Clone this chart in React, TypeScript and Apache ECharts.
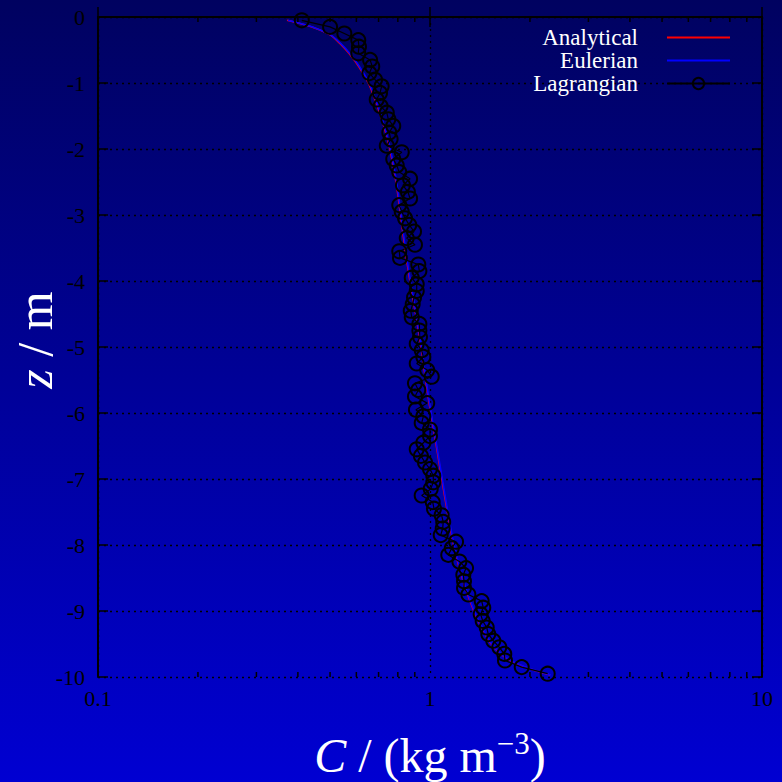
import React, { useEffect, useRef } from "react";
import * as echarts from "echarts";

// ---------- data ----------
const analyticalZ = [-0.05, -0.1, -0.16, -0.27, -0.4, -0.55, -0.75, -1, -1.25, -1.5, -1.75, -2, -2.5, -3, -3.5, -4, -4.5, -5, -5.5, -6, -6.5, -7, -7.5, -8, -8.5, -9, -9.25, -9.5, -9.7, -9.85, -9.97];
const analyticalC = [0.371, 0.406, 0.445, 0.5, 0.535, 0.57, 0.61, 0.652, 0.683, 0.71, 0.735, 0.757, 0.79, 0.815, 0.84, 0.87, 0.905, 0.94, 0.97, 1.005, 1.045, 1.085, 1.128, 1.178, 1.25, 1.355, 1.43, 1.53, 1.68, 1.93, 2.3];
const eulerianC = [0.373, 0.408, 0.447, 0.502, 0.538, 0.573, 0.613, 0.655, 0.686, 0.713, 0.738, 0.76, 0.793, 0.818, 0.843, 0.873, 0.908, 0.943, 0.973, 1.008, 1.048, 1.089, 1.132, 1.182, 1.254, 1.36, 1.435, 1.536, 1.687, 1.94, 2.31];

const lagrangianZ = [
  -0.05, -0.15, -0.25, -0.35, -0.45, -0.55, -0.65, -0.75, -0.85, -0.95,
  -1.05, -1.15, -1.25, -1.35, -1.45, -1.55, -1.65, -1.75, -1.85, -1.95,
  -2.05, -2.15, -2.25, -2.35, -2.45, -2.55, -2.65, -2.75, -2.85, -2.95,
  -3.05, -3.15, -3.25, -3.35, -3.45, -3.55, -3.65, -3.75, -3.85, -3.95,
  -4.05, -4.15, -4.25, -4.35, -4.45, -4.55, -4.65, -4.75, -4.85, -4.95,
  -5.05, -5.15, -5.25, -5.35, -5.45, -5.55, -5.65, -5.75, -5.85, -5.95,
  -6.05, -6.15, -6.25, -6.35, -6.45, -6.55, -6.65, -6.75, -6.85, -6.95,
  -7.05, -7.15, -7.25, -7.35, -7.45, -7.55, -7.65, -7.75, -7.85, -7.95,
  -8.05, -8.15, -8.25, -8.35, -8.45, -8.55, -8.65, -8.75, -8.85, -8.95,
  -9.05, -9.15, -9.25, -9.35, -9.45, -9.55, -9.65, -9.75, -9.85, -9.95,
];
const lagrangianC = [
  0.411, 0.5, 0.552, 0.608, 0.611, 0.608, 0.66, 0.67, 0.657, 0.683,
  0.715, 0.707, 0.691, 0.71, 0.741, 0.749, 0.775, 0.754, 0.761, 0.741,
  0.822, 0.775, 0.794, 0.808, 0.871, 0.829, 0.858, 0.871, 0.808, 0.822,
  0.841, 0.866, 0.895, 0.851, 0.901, 0.808, 0.812, 0.922, 0.929, 0.881,
  0.912, 0.912, 0.895, 0.887, 0.875, 0.881, 0.929, 0.929, 0.933, 0.912,
  0.944, 0.955, 0.912, 0.981, 1.012, 0.901, 0.922, 0.901, 0.981, 0.907,
  0.955, 0.944, 1.0, 1.0, 0.955, 0.912, 0.939, 0.966, 1.0, 1.023,
  1.023, 1.005, 0.944, 1.019, 1.028, 1.084, 1.096, 1.092, 1.077, 1.198,
  1.163, 1.135, 1.226, 1.284, 1.26, 1.266, 1.266, 1.305, 1.431, 1.447,
  1.421, 1.441, 1.482, 1.498, 1.551, 1.617, 1.674, 1.682, 1.889, 2.262,
];

const minorTickValues = [0.2, 0.3, 0.4, 0.5, 0.6, 0.7, 0.8, 0.9, 2, 3, 4, 5, 6, 7, 8, 9];
const seriesNames = ["Analytical", "Eulerian", "Lagrangian"];
const xMin = 0.1;
const xMax = 10;
const yMin = -10;
const yMax = 0;

const FONT = "'Liberation Serif', 'DejaVu Serif', 'Times New Roman', serif";

export default function App() {
  const ref = useRef<HTMLDivElement>(null);

  useEffect(() => {
    document.body.style.margin = "0";
    if (!ref.current) return;
    const chart = echarts.init(ref.current, null, { renderer: "svg" });

    const pair = (xs: number[], zs: number[]) => xs.map((c, i) => [c, zs[i]]);

    const gridLine = { show: true, lineStyle: { color: "#000", type: [2, 4], width: 1.3 } };

    const axisCommonX = {
      type: "log" as const,
      logBase: 10,
      min: xMin,
      max: xMax,
      axisLine: { show: true, lineStyle: { color: "#000", width: 2 } },
      axisTick: { show: true, inside: true, length: 10, lineStyle: { color: "#000", width: 1.5 } },
    };
    const axisCommonY = {
      type: "value" as const,
      min: yMin,
      max: yMax,
      interval: 1,
      axisLine: { show: true, lineStyle: { color: "#000", width: 2 } },
      axisTick: { show: true, inside: true, length: 10, lineStyle: { color: "#000", width: 1.5 } },
    };

    const hiddenSymbol = { color: "rgba(0,0,0,0)", borderWidth: 0, opacity: 0 };

    chart.setOption({
      animation: false,
      backgroundColor: "transparent",
      grid: { left: 98, right: 20, top: 17, bottom: 105, containLabel: false, outerBoundsMode: "none" },
      legend: {
        data: [
          { name: seriesNames[0], itemStyle: hiddenSymbol },
          { name: seriesNames[1], itemStyle: hiddenSymbol },
          { name: seriesNames[2] },
        ],
        orient: "vertical",
        right: 51,
        top: 26,
        padding: 0,
        align: "right",
        itemWidth: 63,
        itemHeight: 14,
        itemGap: 0,
        textStyle: {
          color: "#fff",
          fontSize: 23,
          fontFamily: FONT,
          lineHeight: 22.5,
          padding: [0, 24, 0, 0],
        },
      },
      xAxis: [
        {
          ...axisCommonX,
          position: "bottom",
          name: "{it|C} / (kg m{sup|\u22123})",
          nameLocation: "middle",
          nameGap: 51,
          nameTextStyle: {
            color: "#fff",
            fontSize: 48,
            fontFamily: FONT,
            rich: {
              it: { fontStyle: "italic", fontSize: 48, color: "#fff", fontFamily: FONT },
              sup: { fontSize: 31, color: "#fff", fontFamily: FONT, verticalAlign: "bottom", padding: [0, 0, 23, 0] },
            },
          },
          axisLabel: { show: true, color: "#000", fontSize: 22, fontFamily: FONT, margin: 10 },
          splitLine: gridLine,
        },
        {
          ...axisCommonX,
          position: "top",
          axisLabel: { show: false },
          splitLine: { show: false },
        },
      ],
      yAxis: [
        {
          ...axisCommonY,
          position: "left",
          name: "{it|z} / m",
          nameLocation: "middle",
          nameRotate: 90,
          nameGap: 38,
          nameMoveOverlap: false,
          nameTextStyle: {
            color: "#fff",
            fontSize: 50,
            fontFamily: FONT,
            padding: [0, 0, 0, 14],
            rich: {
              it: { fontStyle: "italic", fontSize: 50, color: "#fff", fontFamily: FONT },
            },
          },
          axisLabel: { show: true, color: "#000", fontSize: 22, fontFamily: FONT, margin: 13 },
          splitLine: gridLine,
        },
        {
          ...axisCommonY,
          position: "right",
          axisLabel: { show: false },
          splitLine: { show: false },
        },
      ],
      series: [
        {
          name: "Analytical",
          type: "line",
          xAxisIndex: 0,
          yAxisIndex: 0,
          data: pair(analyticalC, analyticalZ),
          symbol: "none",
          smooth: 0.3,
          color: "#ff0000",
          lineStyle: { color: "#ff0000", width: 1.6 },
          z: 3,
        },
        {
          name: "Eulerian",
          type: "line",
          xAxisIndex: 0,
          yAxisIndex: 0,
          data: pair(eulerianC, analyticalZ),
          symbol: "none",
          smooth: 0.3,
          color: "#0000ff",
          lineStyle: { color: "#0000ff", width: 1.6 },
          z: 4,
        },
        {
          name: "Lagrangian",
          type: "line",
          xAxisIndex: 0,
          yAxisIndex: 0,
          data: pair(lagrangianC, lagrangianZ),
          symbol: "circle",
          symbolSize: 14,
          showAllSymbol: true,
          itemStyle: { color: "rgba(0,0,0,0)", borderColor: "#000", borderWidth: 2 },
          lineStyle: { color: "#000", width: 1.2 },
          z: 5,
        },
        {
          name: "minorTicks",
          type: "custom",
          xAxisIndex: 0,
          yAxisIndex: 0,
          silent: true,
          clip: false,
          data: minorTickValues.map((v) => [v, yMin]),
          renderItem: (params: any, api: any) => {
            const v = api.value(0);
            const pb = api.coord([v, yMin]);
            const pt = api.coord([v, yMax]);
            return {
              type: "group",
              children: [
                { type: "line", shape: { x1: pb[0], y1: pb[1], x2: pb[0], y2: pb[1] - 5 }, style: { stroke: "#000", lineWidth: 1.5 } },
                { type: "line", shape: { x1: pt[0], y1: pt[1], x2: pt[0], y2: pt[1] + 5 }, style: { stroke: "#000", lineWidth: 1.5 } },
              ],
            };
          },
          z: 6,
        },
      ],
    });

    return () => chart.dispose();
  }, []);

  return (
    <div
      ref={ref}
      style={{
        width: 782,
        height: 782,
        background: "linear-gradient(to bottom, rgb(0,2,96), rgb(0,0,210))",
      }}
    />
  );
}
